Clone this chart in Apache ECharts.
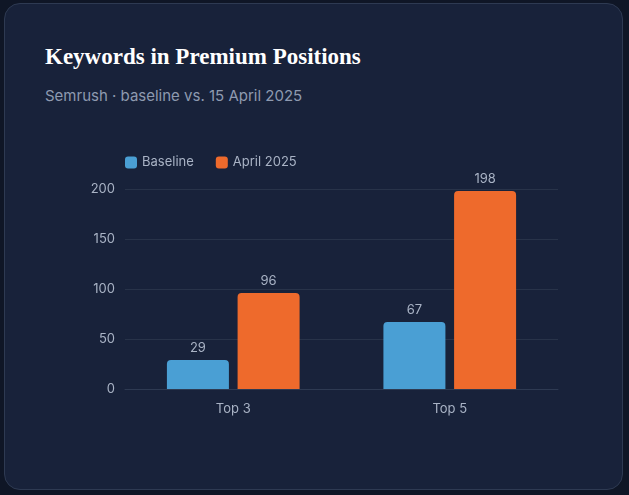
<!DOCTYPE html>
<html><head><meta charset="utf-8">
<script src="https://cdn.jsdelivr.net/npm/echarts@6/dist/echarts.min.js"></script>
<style>
html,body{margin:0;padding:0;background:#0f1626;width:629px;height:495px;overflow:hidden;}
#card{position:absolute;left:4px;top:3px;width:619px;height:487px;background:#18223a;border:1px solid #2e3a52;border-radius:16px;box-sizing:border-box;}
#t{position:absolute;left:40px;top:40px;color:#fff;font:bold 23px "Liberation Serif","DejaVu Serif",serif;}
#s{position:absolute;left:40px;top:82px;color:#8e9ab0;font:15px Inter,"Noto Sans",sans-serif;}
#c{position:absolute;left:0;top:0;width:629px;height:495px;}
</style></head><body>
<div id="card"><div id="t">Keywords in Premium Positions</div><div id="s">Semrush · baseline vs. 15 April 2025</div></div>
<div id="c"></div>
<script>
const categories=["Top 3","Top 5"];
const baseline=[29,67];
const april=[96,198];
const chart=echarts.init(document.getElementById('c'));
const lbl={show:true,position:'top',color:'#a9b3c5',fontSize:13,fontFamily:'Inter'};
chart.setOption({
 textStyle:{fontFamily:'Inter'},
 legend:{left:120,top:151,itemWidth:12,itemHeight:12,itemGap:22,textStyle:{color:'#a9b3c5',fontSize:13},
   data:[{name:'Baseline',icon:'roundRect'},{name:'April 2025',icon:'roundRect'}]},
 grid:{left:125,right:71,top:189,bottom:106},
 xAxis:{type:'category',data:categories,axisLine:{lineStyle:{color:'#2e3a52'}},axisTick:{show:false},
   axisLabel:{color:'#a9b3c5',fontSize:13,margin:14}},
 yAxis:{type:'value',min:0,max:200,interval:50,axisLabel:{color:'#a9b3c5',fontSize:13,margin:10},
   splitLine:{lineStyle:{color:'#283349'}}},
 series:[
  {name:'Baseline',type:'bar',data:baseline,barWidth:62,barGap:'14%',itemStyle:{color:'#4a9fd4',borderRadius:[4,4,0,0]},label:lbl},
  {name:'April 2025',type:'bar',data:april,barWidth:62,itemStyle:{color:'#ee6a2c',borderRadius:[4,4,0,0]},label:lbl}
 ]
});
</script></body></html>
